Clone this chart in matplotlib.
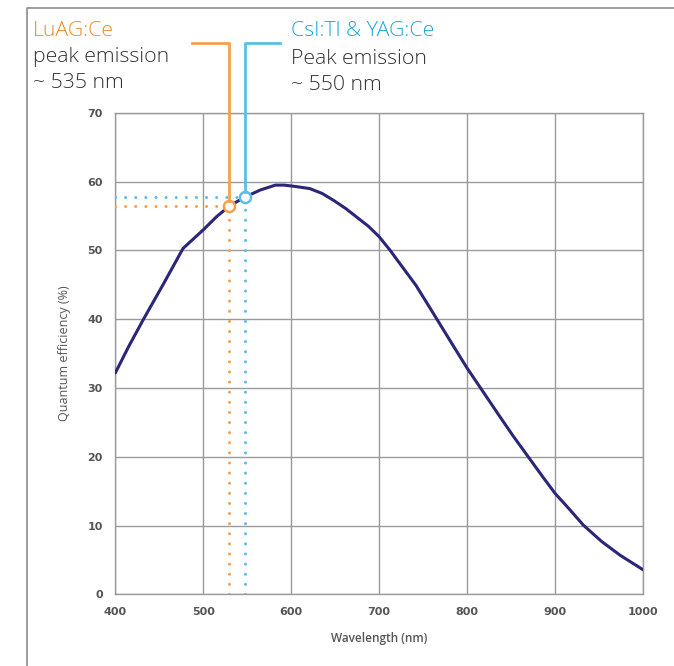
import matplotlib.pyplot as plt
from matplotlib.lines import Line2D

# Quantum efficiency curve
wavelength = [400, 415, 432, 455, 477, 500, 515, 530, 548, 565, 582, 592, 605, 621,
              635, 648, 662, 674, 688, 700, 712, 742, 758, 784, 800, 818, 837, 852,
              869, 886, 900, 917, 932, 953, 974, 1000]
qe = [32.2, 36.0, 40.0, 45.2, 50.3, 53.0, 54.9, 56.5, 57.8, 58.8, 59.5, 59.5, 59.3, 59.0,
      58.3, 57.3, 56.1, 54.9, 53.5, 52.0, 50.1, 44.9, 41.6, 36.2, 32.9, 29.5, 25.9, 23.1,
      20.1, 17.1, 14.7, 12.3, 10.1, 7.7, 5.7, 3.6]

# marker points for the two scintillators
luag_x, luag_y = 529, 56.5
csi_x, csi_y = 547, 57.8

x_ticks = [400, 500, 600, 700, 800, 900, 1000]
y_ticks = [0, 10, 20, 30, 40, 50, 60, 70]

orange = '#F5A04C'
orange_text = '#F08A24'
blue = '#5BBFE2'
navy = '#2B2677'
grey = '#9A9A9A'
label_grey = '#555555'
text_grey = '#333333'

fig = plt.figure(figsize=(6.74, 6.66), dpi=100)
ax = fig.add_axes([0.1711, 0.1074, 0.7829, 0.7231])

ax.plot(wavelength, qe, color=navy, lw=2.2, zorder=4, solid_capstyle='round', solid_joinstyle='round')

# dotted guides
dot = dict(lw=2.2, linestyle=(0, (0.01, 3.3)), dash_capstyle='round', zorder=3)
ax.plot([400, luag_x], [luag_y, luag_y], color=orange, **dot)
ax.plot([luag_x, luag_x], [0, luag_y], color=orange, **dot)
ax.plot([400, csi_x], [csi_y, csi_y], color=blue, **dot)
ax.plot([csi_x, csi_x], [0, csi_y], color=blue, **dot)

ax.plot([luag_x], [luag_y], 'o', ms=8, mfc='white', mec=orange, mew=1.8, zorder=5)
ax.plot([csi_x], [csi_y], 'o', ms=8, mfc='white', mec=blue, mew=1.8, zorder=5)

ax.set_xlim(400, 1000)
ax.set_ylim(0, 70)
ax.set_xticks(x_ticks)
ax.set_yticks(y_ticks)
ax.grid(True, color=grey, lw=1)
ax.set_axisbelow(True)
for s in ax.spines.values():
    s.set_color(grey)
    s.set_linewidth(1)
ax.tick_params(length=0, pad=9, labelsize=8, labelcolor=label_grey)
for lab in ax.get_xticklabels() + ax.get_yticklabels():
    lab.set_fontweight('bold')
ax.set_xlabel('Wavelength (nm)', fontsize=8.5, fontweight='semibold', color=label_grey,
              family='Open Sans', labelpad=11)
ax.set_ylabel('Quantum efficiency (%)', fontsize=9, color=label_grey, family='Open Sans', labelpad=12)

W, H = 674, 666
def px(x, y):
    return x / W, 1 - y / H

# solid bracket lines from the labels down to the markers
top_y = 43
o_pt = fig.transFigure.inverted().transform(ax.transData.transform((luag_x, luag_y)))
b_pt = fig.transFigure.inverted().transform(ax.transData.transform((csi_x, csi_y)))
r = 4.5 / H
fig.add_artist(Line2D([192 / W, o_pt[0], o_pt[0]], [1 - top_y / H, 1 - top_y / H, o_pt[1] + r],
                      color=orange, lw=2, zorder=6))
fig.add_artist(Line2D([280 / W, b_pt[0], b_pt[0]], [1 - top_y / H, 1 - top_y / H, b_pt[1] + r],
                      color=blue, lw=2, zorder=6))

# frame around the figure
fig.add_artist(Line2D([27 / W, 27 / W, 1], [0, 1 - 7.5 / H, 1 - 7.5 / H], color='#8C8C8C', lw=1.2))

font = 'Open Sans'
txt = dict(fontsize=15.3, family=font, fontweight='light', va='center')
fig.text(*px(33, 31), 'LuAG:Ce', color=orange_text, **txt)
fig.text(*px(33, 57), 'peak emission', color=text_grey, **txt)
fig.text(*px(33, 83), '~ 535 nm', color=text_grey, **txt)
fig.text(*px(291, 31), 'CsI:Tl & YAG:Ce', color='#1BA8D8', **txt)
fig.text(*px(291, 59), 'Peak emission', color=text_grey, **txt)
fig.text(*px(291, 85), '~ 550 nm', color=text_grey, **txt)

fig.savefig('out.png', dpi=100)
